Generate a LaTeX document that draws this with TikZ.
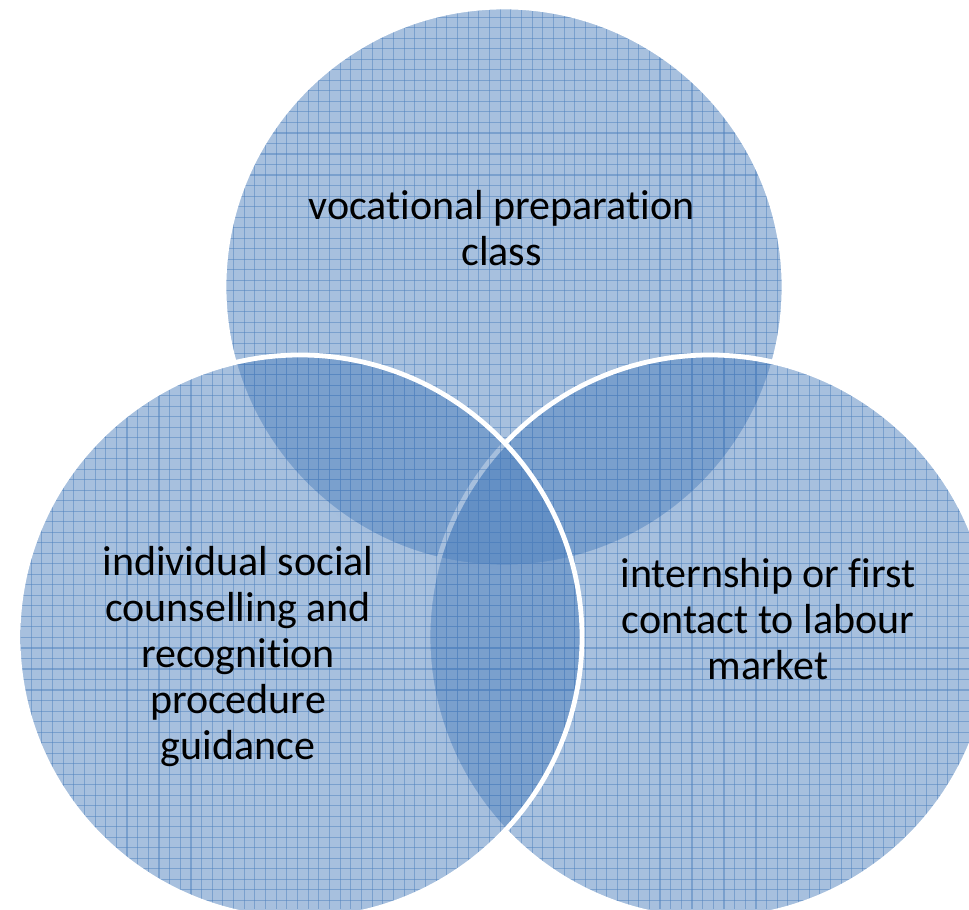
\documentclass[tikz,border=0pt]{standalone}
\usepackage{fontspec}
\setmainfont{Carlito}[Ligatures=NoCommon]
\usepackage{tikz}
\definecolor{vennblue}{RGB}{79,129,189}
\tikzstyle{vennfill} = [fill=vennblue, fill opacity=0.5]
\tikzstyle{vennedge} = [draw=white, line width=3.6pt]
\tikzstyle{meshline} = [draw=vennblue, draw opacity=0.5, line width=0.8pt]
\tikzstyle{venntext} = [align=center, inner sep=0pt, text=black, font=\fontsize{31.5}{34.5}\selectfont]
\newcommand{\vennmesh}{%
  \foreach \k in {0,...,90} \draw[meshline] (9.76+\k*10.66,0) -- (9.76+\k*10.66,909);
  \foreach \k in {0,...,86} \draw[meshline] (0,902.12-\k*10.51) -- (969,902.12-\k*10.51);
}
\begin{document}
\begin{tikzpicture}[x=0.75pt, y=0.75pt]
        \useasboundingbox (0,0) rectangle (969,909);
        \coordinate (topc) at (504,622);
        \coordinate (rightc) at (710,272);
        \coordinate (leftc) at (300,272);

        \foreach \c/\r in {topc/280, rightc/282, leftc/282} {
            \begin{scope}
                \clip (\c) circle (\r);
                \fill [vennfill] (\c) circle (\r);
                \vennmesh
            \end{scope}
            \draw [vennedge] (\c) circle (\r);
        }

        \node (vocational) [venntext] at (501.5,681.2) {vocational preparation\\class};
        \node (counselling) [venntext] at (238,252.8) {individual social\\counselling and\\recognition\\procedure\\guidance};
        \node (internship) [venntext] at (768,289.7) {internship or first\\contact to labour\\market};
    \end{tikzpicture}
\end{document}
